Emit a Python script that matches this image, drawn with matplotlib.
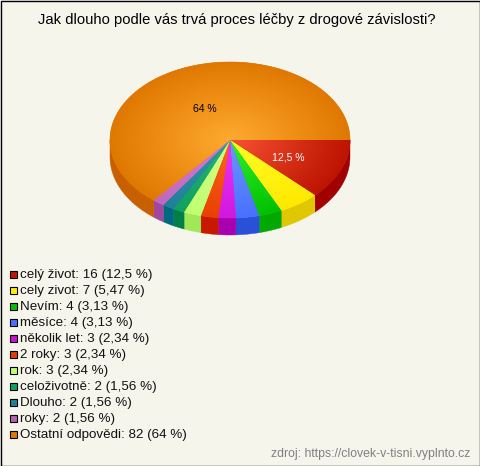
import numpy as np
import matplotlib
matplotlib.use('Agg')
import matplotlib.pyplot as plt
from matplotlib.patches import Polygon, Rectangle

plt.rcParams['font.family'] = ['Liberation Sans', 'DejaVu Sans']

title = 'Jak dlouho podle vás trvá proces léčby z drogové závislosti?'
source = 'zdroj: https://clovek-v-tisni.vyplnto.cz'
labels = ['celý život', 'cely zivot', 'Nevím', 'měsíce', 'několik let', '2 roky',
          'rok', 'celoživotně', 'Dlouho', 'roky', 'Ostatní odpovědi']
counts = [16, 7, 4, 4, 3, 3, 3, 2, 2, 2, 82]
percents = ['12,5', '5,47', '3,13', '3,13', '2,34', '2,34', '2,34', '1,56', '1,56', '1,56', '64']

# barvy: stred, okraj, bocni stena, legenda
inner = ['#f65232', '#ffff28', '#30f030', '#6c98ff', '#ee34f6', '#ff6420', '#d4ff84', '#24b474', '#3494ac', '#d47cd4', '#ffaa30']
outer = ['#bc1400', '#ffe800', '#00c000', '#4870ff', '#d018e0', '#e84000', '#c0ff70', '#10a060', '#208098', '#c068c0', '#e07800']
side = ['#a00000', '#e0c800', '#00a800', '#2850d8', '#a800b0', '#c81800', '#a0e858', '#008048', '#006880', '#a048a0', '#c86000']
swatch = ['#c01800', '#ffee00', '#00c000', '#4870ff', '#c810d0', '#e04000', '#c0ff70', '#10a060', '#208098', '#b860b0', '#e07800']

BG = '#f5f5ec'
CX, CY, RX, RY, DEPTH = 230, 140, 120, 78, 17

fig = plt.figure(figsize=(4.8, 4.66), dpi=100, facecolor=BG)
ax = fig.add_axes([0, 0, 1, 1])
ax.set_xlim(0, 480)
ax.set_ylim(466, 0)
ax.axis('off')

yy, xx = np.mgrid[0:466, 0:480] + 0.5
t = np.clip(np.hypot((xx - CX) / RX, (yy - CY) / RY), 0, 1)[..., None]


def arc(a, b):
    ang = np.radians(np.linspace(a, b, max(int(abs(b - a) * 2), 2)))
    return CX + RX * np.cos(ang), CY + RY * np.sin(ang)


edges = np.concatenate([[0], np.cumsum(counts)]) / sum(counts) * 360
for i in range(len(counts)):
    a, b = edges[i], edges[i + 1]
    # bocni stena jen na predni strane
    if a < 180:
        x, y = arc(a, min(b, 180))
        wall = np.column_stack([np.r_[x, x[::-1]], np.r_[y, y[::-1] + DEPTH]])
        ax.add_patch(Polygon(wall, facecolor=side[i], edgecolor=side[i], lw=0.3, zorder=2))

for i in range(len(counts)):
    a, b = edges[i], edges[i + 1]
    x, y = arc(a, b)
    poly = Polygon(np.column_stack([np.r_[CX, x], np.r_[CY, y]]), closed=True,
                   facecolor=outer[i], edgecolor=outer[i], lw=0.4, zorder=3)
    ax.add_patch(poly)
    c0 = np.array(matplotlib.colors.to_rgb(inner[i]))
    c1 = np.array(matplotlib.colors.to_rgb(outer[i]))
    img = ax.imshow(c0 * (1 - t) + c1 * t, extent=(0, 480, 466, 0), origin='upper',
                    interpolation='bilinear', aspect='auto', zorder=4)
    img.set_clip_path(poly)

ax.set_xlim(0, 480)
ax.set_ylim(466, 0)

ax.text(237, 20, title, ha='center', va='center', fontsize=10.67, color='black')
ax.text(205, 109, percents[-1] + ' %', ha='center', va='center', fontsize=7.5, color='black', zorder=5)
ax.text(288, 157, percents[0] + ' %', ha='center', va='center', fontsize=7.5, color='white', zorder=5)

for i, lab in enumerate(labels):
    y0 = 274 + i * 16
    ax.add_patch(Rectangle((9.5, y0 - 3.5), 7, 7, facecolor=swatch[i], edgecolor='black', lw=0.8, zorder=5))
    ax.text(20, y0 + 1, f'{lab}: {counts[i]} ({percents[i]} %)', ha='left', va='center',
            fontsize=9.67, color='#111111')

ax.text(470, 454, source, ha='right', va='center', fontsize=8.8, color='#808080')

ax.add_patch(Rectangle((0.5, 0.5), 479, 465, fill=False, edgecolor='black', lw=1, zorder=6))

fig.savefig('out.png', dpi=100, facecolor=BG)
